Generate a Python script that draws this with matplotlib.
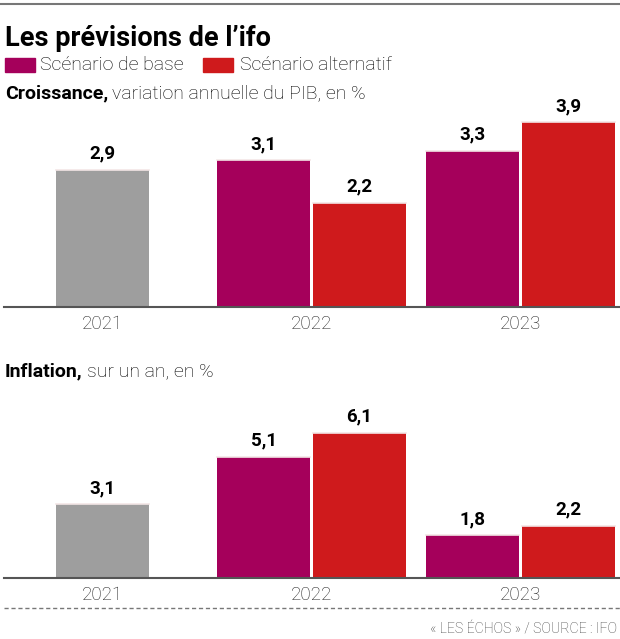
import matplotlib.pyplot as plt
import matplotlib.patches as mpatches

plt.rcParams['font.family'] = ['Roboto', 'DejaVu Sans']

years = ['2021', '2022', '2023']
# croissance, variation annuelle du PIB
pib_hist = [2.9, None, None]
pib_base = [None, 3.1, 3.3]
pib_alt = [None, 2.2, 3.9]
# inflation, sur un an
inf_hist = [3.1, None, None]
inf_base = [None, 5.1, 1.8]
inf_alt = [None, 6.1, 2.2]

c_gray = '#9e9e9e'
c_base = '#a5005b'
c_alt = '#cf1a1c'

W, H = 620, 639
fig = plt.figure(figsize=(6.2, 6.39), dpi=100)

bw = 0.443
off = 0.229

def fmt(v):
    return ('%.1f' % v).replace('.', ',')

def panel(ax, hist, base, alt, ymax):
    for i in range(len(years)):
        bars = []
        if hist[i] is not None:
            bars.append((i, hist[i], c_gray))
        if base[i] is not None:
            bars.append((i - off, base[i], c_base))
        if alt[i] is not None:
            bars.append((i + off, alt[i], c_alt))
        for x, v, c in bars:
            ax.bar(x, v, width=bw, color=c, zorder=2)
            ax.plot([x - bw / 2, x + bw / 2], [v, v], color='#f3e6e6', lw=1.2, zorder=3)
            ax.annotate(fmt(v), (x, v), xytext=(0, 5), textcoords='offset points',
                        ha='center', va='bottom', fontsize=13.5, fontweight='bold')
    ax.set_xlim(-0.471, 2.476)
    ax.set_ylim(0, ymax)
    ax.set_xticks(range(len(years)))
    ax.set_xticklabels(years, fontsize=13.5, color='#222222', fontweight='light')
    ax.tick_params(axis='x', length=0, pad=6)
    ax.set_yticks([])
    for s in ['top', 'right', 'left']:
        ax.spines[s].set_visible(False)
    ax.spines['bottom'].set_color('#555555')
    ax.spines['bottom'].set_linewidth(1.5)
    ax.spines['bottom'].set_zorder(4)
    ax.patch.set_alpha(0)

# top chart
ax1 = fig.add_axes([4 / W, 1 - 307 / H, 616 / W, 207 / H])
panel(ax1, pib_hist, pib_base, pib_alt, 207 / 47.4)

# bottom chart
ax2 = fig.add_axes([4 / W, 1 - 578 / H, 616 / W, 188 / H])
panel(ax2, inf_hist, inf_base, inf_alt, 188 / 23.8)

# header
fig.add_artist(plt.Line2D([0, 1], [1 - 4 / H, 1 - 4 / H], color='#777777', lw=1.5))
fig.text(5 / W, 1 - 38 / H, "Les prévisions de l\u2019ifo", fontsize=19.5, fontweight='bold',
         va='center', ha='left')
fig.add_artist(mpatches.Rectangle((5 / W, 1 - 72 / H), 30 / W, 14 / H, color=c_base,
                                  transform=fig.transFigure))
fig.text(40 / W, 1 - 65 / H, 'Scénario de base', fontsize=14, va='center', ha='left',
         fontweight='light')
fig.add_artist(mpatches.Rectangle((203 / W, 1 - 72 / H), 30 / W, 14 / H, color=c_alt,
                                  transform=fig.transFigure))
fig.text(240 / W, 1 - 65 / H, 'Scénario alternatif', fontsize=14, va='center', ha='left',
         fontweight='light')

t = fig.text(5 / W, 1 - 93 / H, 'Croissance,', fontsize=14, fontweight='bold', va='center')
fig.canvas.draw()
bb = t.get_window_extent()
fig.text((bb.x1 + 4) / W, 1 - 93 / H, 'variation annuelle du PIB, en %', fontsize=14,
         va='center', fontweight='light')

t2 = fig.text(5 / W, 1 - 371 / H, 'Inflation,', fontsize=14, fontweight='bold', va='center')
fig.canvas.draw()
bb2 = t2.get_window_extent()
fig.text((bb2.x1 + 4) / W, 1 - 371 / H, 'sur un an, en %', fontsize=14, va='center',
         fontweight='light')

# footer
fig.add_artist(plt.Line2D([4 / W, 1], [1 - 608 / H, 1 - 608 / H], color='#777777', lw=1,
                          ls=(0, (3, 2))))
fig.text(617 / W, 1 - 630 / H, '« LES ÉCHOS » / SOURCE : IFO', fontsize=10.2, ha='right',
         va='center', color='#444444', fontweight='light')

fig.savefig('out.png', dpi=100)
